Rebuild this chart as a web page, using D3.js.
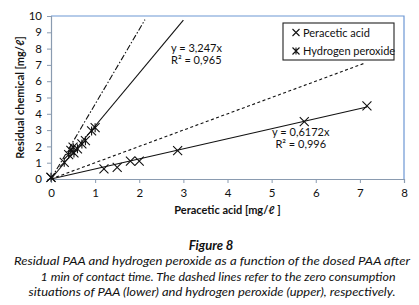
<!DOCTYPE html>
<html>
<head>
<meta charset="utf-8">
<script src="https://cdn.jsdelivr.net/npm/d3@7"></script>
<style>
  body { margin: 0; background: #fff; }
  svg text { font-family: Lato, "Open Sans", sans-serif; fill: #111; }
</style>
</head>
<body>
<div id="wrapper"></div>
<script>
'use strict';

// data
const paaDose = [0, 1.2, 1.5, 1.8, 2.0, 2.87, 5.74, 7.16];
const paaResidual = [0.1, 0.62, 0.72, 1.1, 1.1, 1.74, 3.52, 4.48];

const h2o2Dose = [0, 0.3, 0.4, 0.45, 0.5, 0.52, 0.6, 0.7, 0.78, 0.92, 1.0];
const h2o2Residual = [0.1, 1.02, 1.5, 1.75, 1.95, 1.6, 1.85, 2.15, 2.35, 2.95, 3.15];

// fitted and zero-consumption lines: [slope, x end]
const fitPAA = [0.6172, 7.16];
const fitH2O2 = [3.247, 3.0];
const zeroPAA = [1.0, 7.1];
const zeroH2O2 = [4.59, 2.13];

const xTicks = [0, 1, 2, 3, 4, 5, 6, 7, 8];
const yTicks = [0, 1, 2, 3, 4, 5, 6, 7, 8, 9, 10];

const legendLabels = ['Peracetic acid', 'Hydrogen peroxide'];
const captionTitle = 'Figure 8';
const captionLines = [
  'Residual PAA and hydrogen peroxide as a function of the dosed PAA after',
  '1 min of contact time. The dashed lines refer to the zero consumption',
  'situations of PAA (lower) and hydrogen peroxide (upper), respectively.'
];

function drawChart () {
  const dimensions = {
    width: 419,
    height: 305,
    margin: { top: 16, right: 15, bottom: 126, left: 51 },
  };
  dimensions.boundedWidth = dimensions.width - dimensions.margin.left - dimensions.margin.right;
  dimensions.boundedHeight = dimensions.height - dimensions.margin.top - dimensions.margin.bottom;

  const xScale = d3.scaleLinear().domain([0, 8]).range([0, dimensions.boundedWidth]);
  const yScale = d3.scaleLinear().domain([0, 10]).range([dimensions.boundedHeight, 0]);

  const wrapper = d3.select('#wrapper')
    .append('svg')
    .attr('width', dimensions.width)
    .attr('height', dimensions.height);

  const bounds = wrapper.append('g')
    .attr('transform', `translate(${dimensions.margin.left},${dimensions.margin.top})`);

  // frame (top + right)
  bounds.append('path')
    .attr('d', `M0,0H${dimensions.boundedWidth}V${dimensions.boundedHeight}`)
    .attr('fill', 'none')
    .attr('stroke', '#6d97d4')
    .attr('stroke-width', 1.2);

  // axes
  const xAxis = bounds.append('g')
    .attr('transform', `translate(0,${dimensions.boundedHeight})`)
    .call(d3.axisBottom(xScale).tickValues(xTicks).tickSize(4).tickPadding(6).tickFormat(d3.format('d')));
  const yAxis = bounds.append('g')
    .call(d3.axisLeft(yScale).tickValues(yTicks).tickSize(4).tickPadding(5).tickFormat(d3.format('d')));
  [xAxis, yAxis].forEach(ax => {
    ax.select('.domain').attr('stroke', '#8a9bb0').attr('stroke-width', 1.2);
    ax.selectAll('.tick line').attr('stroke', '#8a9bb0');
    ax.selectAll('.tick text').attr('font-size', 11.5).attr('fill', '#111')
      .attr('font-family', 'Lato, sans-serif');
  });

  // lines
  const lineGen = d3.line().x(d => xScale(d[0])).y(d => yScale(d[1]));
  const drawFit = (fit, dash) => bounds.append('path')
    .attr('d', lineGen([[0, 0], [fit[1], fit[0] * fit[1]]]))
    .attr('fill', 'none')
    .attr('stroke', '#111')
    .attr('stroke-width', 1.1)
    .attr('stroke-dasharray', dash);
  drawFit(zeroH2O2, '6,2,1.5,2');
  drawFit(zeroPAA, '3,2.5');
  drawFit(fitH2O2, null);
  drawFit(fitPAA, null);

  // markers
  const cross = (g, x, y, s) => g.append('path')
    .attr('d', `M${x - s},${y - s}L${x + s},${y + s}M${x - s},${y + s}L${x + s},${y - s}`)
    .attr('stroke', '#111').attr('stroke-width', 1.1).attr('fill', 'none');
  const star = (g, x, y, s) => g.append('path')
    .attr('d', `M${x - s},${y - s}L${x + s},${y + s}M${x - s},${y + s}L${x + s},${y - s}M${x},${y - s}V${y + s}`)
    .attr('stroke', '#111').attr('stroke-width', 1.1).attr('fill', 'none');

  paaDose.forEach((d, i) => cross(bounds, xScale(d), yScale(paaResidual[i]), 4.5));
  h2o2Dose.forEach((d, i) => star(bounds, xScale(d), yScale(h2o2Residual[i]), 4.5));

  // equations
  const eq = (x, y, anchor, txt) => bounds.append('text')
    .attr('x', x).attr('y', y).attr('text-anchor', anchor)
    .attr('font-size', 11).text(txt);
  eq(xScale(2.72), yScale(7.8), 'start', 'y = 3,247x');
  eq(xScale(2.72), yScale(7.05), 'start', 'R² = 0,965');
  eq(xScale(5.66), yScale(2.65), 'middle', 'y = 0,6172x');
  eq(xScale(5.66), yScale(1.9), 'middle', 'R² = 0,996');

  // legend
  const legend = wrapper.append('g').attr('transform', 'translate(283,23)');
  legend.append('rect')
    .attr('width', 111).attr('height', 37)
    .attr('fill', '#fff').attr('stroke', '#222').attr('stroke-width', 1.1);
  cross(legend, 13, 9.5, 3.5);
  star(legend, 13, 28, 3.5);
  legendLabels.forEach((l, i) => legend.append('text')
    .attr('x', 20).attr('y', 13.5 + i * 18.5)
    .attr('font-size', 11).text(l));

  // axis titles
  wrapper.append('text')
    .attr('x', dimensions.margin.left + xScale(4)).attr('y', 214)
    .attr('text-anchor', 'middle').attr('font-size', 11).attr('font-weight', 'bold')
    .text('Peracetic acid [mg/ℓ ]');
  wrapper.append('text')
    .attr('transform', `translate(24,${dimensions.margin.top + yScale(5)}) rotate(-90)`)
    .attr('text-anchor', 'middle').attr('font-size', 11).attr('font-weight', 'bold')
    .text('Residual chemical [mg/ℓ]');

  // caption
  wrapper.append('text')
    .attr('x', 211).attr('y', 250)
    .attr('text-anchor', 'middle').attr('font-size', 13)
    .attr('font-weight', 'bold').attr('font-style', 'italic')
    .text(captionTitle);
  const capWidths = [396, 355, 367];
  captionLines.forEach((l, i) => wrapper.append('text')
    .attr('x', 210 - capWidths[i] / 2 + (i === 1 ? 8 : 2)).attr('y', 265 + i * 15.5)
    .attr('font-size', 12).attr('font-style', 'italic')
    .attr('textLength', capWidths[i]).attr('lengthAdjust', 'spacingAndGlyphs')
    .text(l));
}

drawChart();
</script>
</body>
</html>
